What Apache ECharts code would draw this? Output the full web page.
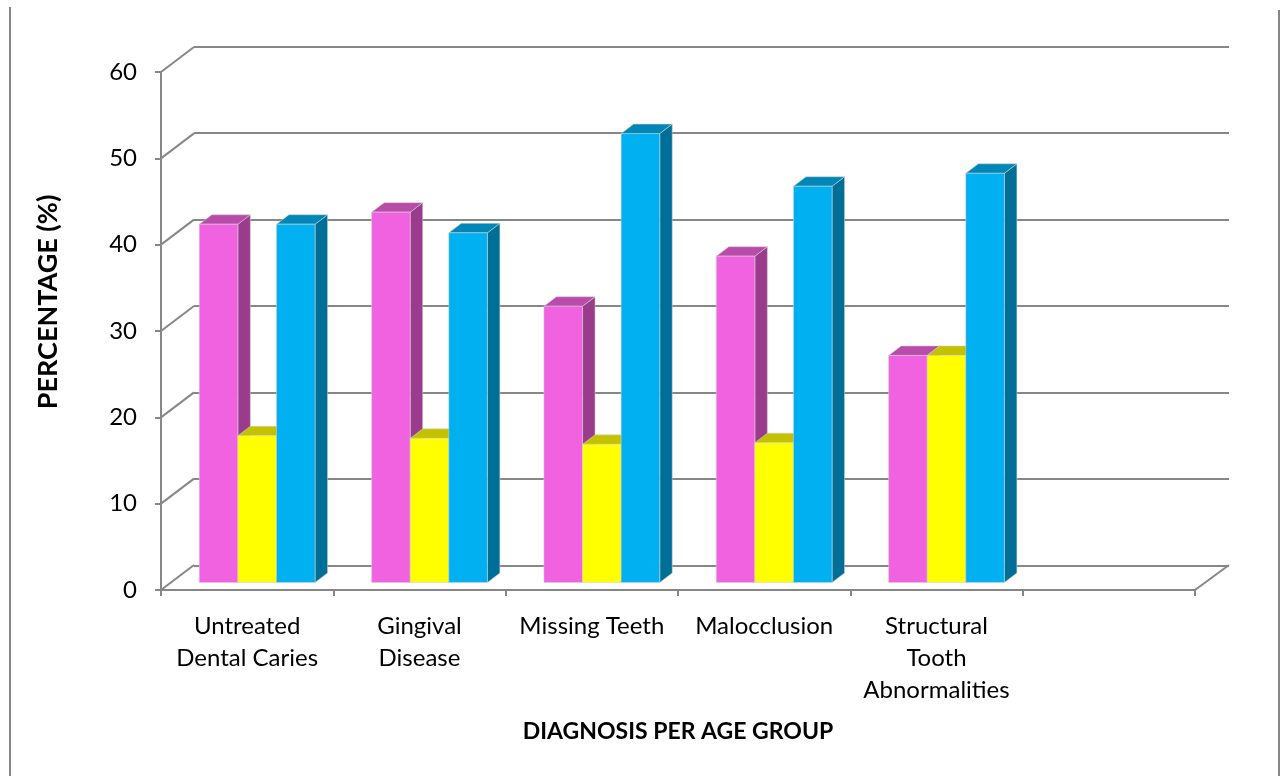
<!DOCTYPE html>
<html>
<head>
<meta charset="utf-8">
<title>Diagnosis per age group</title>
<script src="https://cdn.jsdelivr.net/npm/echarts@6/dist/echarts.min.js"></script>
<style>
  html, body { margin: 0; padding: 0; background: #ffffff; }
  #chart { width: 1281px; height: 776px; }
</style>
</head>
<body>
<div id="chart"></div>
<script>
// Diagnosis categories (last slot is left empty on the axis)
const categories = [
  'Untreated\nDental Caries',
  'Gingival\nDisease',
  'Missing Teeth',
  'Malocclusion',
  'Structural\nTooth\nAbnormalities',
  ''
];

// Percentage per diagnosis for each age group
const group1Values = [41.5, 42.9, 32.0, 37.8, 26.3];
const group2Values = [17.0, 16.7, 16.0, 16.2, 26.3];
const group3Values = [41.5, 40.5, 52.0, 45.9, 47.4];

// Value axis ticks
const yTicks = [0, 10, 20, 30, 40, 50, 60];

const FONT = 'Lato, "Liberation Sans", sans-serif';
const LINE = '#878787';

// 3D look: depth of the floor/walls and of each bar, in pixels
const WALL_DX = 33, WALL_DY = -25;
const BAR_SHIFT_X = 10, BAR_SHIFT_Y = -7.5;
const BAR_DX = 12.5, BAR_DY = -9.5;

const palette = [
  { front: '#F062E0', top: '#B94CAB', side: '#9A3B8B' },
  { front: '#FFFF00', top: '#C4C200', side: '#A5A300' },
  { front: '#00B0F0', top: '#0087B8', side: '#006F98' }
];

function barSeries(name, values, idx) {
  const c = palette[idx];
  return {
    name: name,
    type: 'custom',
    xAxisIndex: 0,
    yAxisIndex: 0,
    clip: false,
    z: 10 + idx,
    data: values.map((v, i) => [i, v]),
    renderItem: function (params, api) {
      const cat = api.value(0);
      const v = api.value(1);
      const base = api.coord([cat, 0]);
      const top = api.coord([cat, v]);
      const slot = api.size([1, 0])[0];
      const bw = slot * 0.224;
      const left = base[0] + BAR_SHIFT_X + (idx - 1.5) * bw;
      const right = left + bw;
      const yB = base[1] + BAR_SHIFT_Y;
      const yT = top[1] + BAR_SHIFT_Y;
      const edge = { stroke: 'rgba(210,210,210,0.55)', lineWidth: 1 };
      return {
        type: 'group',
        children: [
          {
            type: 'polygon',
            shape: { points: [[right, yT], [right + BAR_DX, yT + BAR_DY], [right + BAR_DX, yB + BAR_DY], [right, yB]] },
            style: Object.assign({ fill: c.side }, edge)
          },
          {
            type: 'polygon',
            shape: { points: [[left, yT], [left + BAR_DX, yT + BAR_DY], [right + BAR_DX, yT + BAR_DY], [right, yT]] },
            style: Object.assign({ fill: c.top }, edge)
          },
          {
            type: 'rect',
            shape: { x: left, y: yT, width: bw, height: yB - yT },
            style: Object.assign({ fill: c.front }, edge)
          }
        ]
      };
    }
  };
}

// Side-wall diagonals joining the front value axis to the back wall gridlines
const wallSeries = {
  type: 'custom',
  xAxisIndex: 0,
  yAxisIndex: 0,
  clip: false,
  silent: true,
  z: 1,
  data: yTicks.map(v => [0, v]),
  renderItem: function (params, api) {
    const v = api.value(1);
    const y = api.coord([0, v])[1];
    const x0 = params.coordSys.x;
    const x1 = params.coordSys.x + params.coordSys.width;
    const style = { stroke: LINE, lineWidth: 2 };
    const children = [
      { type: 'line', shape: { x1: x0, y1: y, x2: x0 + WALL_DX, y2: y + WALL_DY }, style: style }
    ];
    if (v === yTicks[0]) {
      children.push({ type: 'line', shape: { x1: x1, y1: y, x2: x1 + WALL_DX + 1, y2: y + WALL_DY }, style: style });
    }
    return { type: 'group', children: children };
  }
};

const chart = echarts.init(document.getElementById('chart'), null, { renderer: 'canvas' });

chart.setOption({
  backgroundColor: '#ffffff',
  animation: false,
  grid: [
    { left: 161, right: 86, top: 72, bottom: 186, containLabel: false },
    { left: 194, right: 52, top: 46.5, bottom: 210.5, containLabel: false }
  ],
  xAxis: [
    {
      type: 'category',
      gridIndex: 0,
      data: categories,
      boundaryGap: true,
      axisLine: { show: true, lineStyle: { color: LINE, width: 2 } },
      axisTick: { show: true, length: 6, lineStyle: { color: LINE, width: 2 } },
      axisLabel: {
        interval: 0,
        margin: 20,
        color: '#000000',
        fontFamily: FONT,
        fontSize: 24,
        lineHeight: 32
      },
      splitLine: { show: false },
      name: 'DIAGNOSIS PER AGE GROUP',
      nameLocation: 'middle',
      nameGap: 130,
      nameTextStyle: { color: '#000000', fontFamily: FONT, fontSize: 23, fontWeight: 'bold' }
    },
    {
      type: 'category',
      gridIndex: 1,
      data: categories,
      show: false
    }
  ],
  yAxis: [
    {
      type: 'value',
      gridIndex: 0,
      min: 0,
      max: 60,
      interval: 10,
      axisLine: { show: true, lineStyle: { color: LINE, width: 2 } },
      axisTick: { show: true, length: 6, lineStyle: { color: LINE, width: 2 } },
      axisLabel: { margin: 24, color: '#000000', fontFamily: FONT, fontSize: 24 },
      splitLine: { show: false }
    },
    {
      type: 'value',
      gridIndex: 1,
      min: 0,
      max: 60,
      interval: 10,
      axisLine: { show: false },
      axisTick: { show: false },
      axisLabel: { show: false },
      splitLine: { show: true, lineStyle: { color: LINE, width: 2 } }
    }
  ],
  graphic: [
    {
      type: 'text',
      x: 48,
      y: 302,
      rotation: Math.PI / 2,
      style: {
        text: 'PERCENTAGE (%)',
        fill: '#000000',
        font: 'bold 27px ' + FONT,
        textAlign: 'center',
        textVerticalAlign: 'middle'
      }
    },
    { type: 'line', shape: { x1: 10, y1: 7, x2: 10, y2: 776 }, style: { stroke: LINE, lineWidth: 2 } },
    { type: 'line', shape: { x1: 1279, y1: 10, x2: 1279, y2: 776 }, style: { stroke: LINE, lineWidth: 2 } }
  ],
  series: [
    wallSeries,
    barSeries('Age group 1', group1Values, 0),
    barSeries('Age group 2', group2Values, 1),
    barSeries('Age group 3', group3Values, 2)
  ]
});
</script>
</body>
</html>
